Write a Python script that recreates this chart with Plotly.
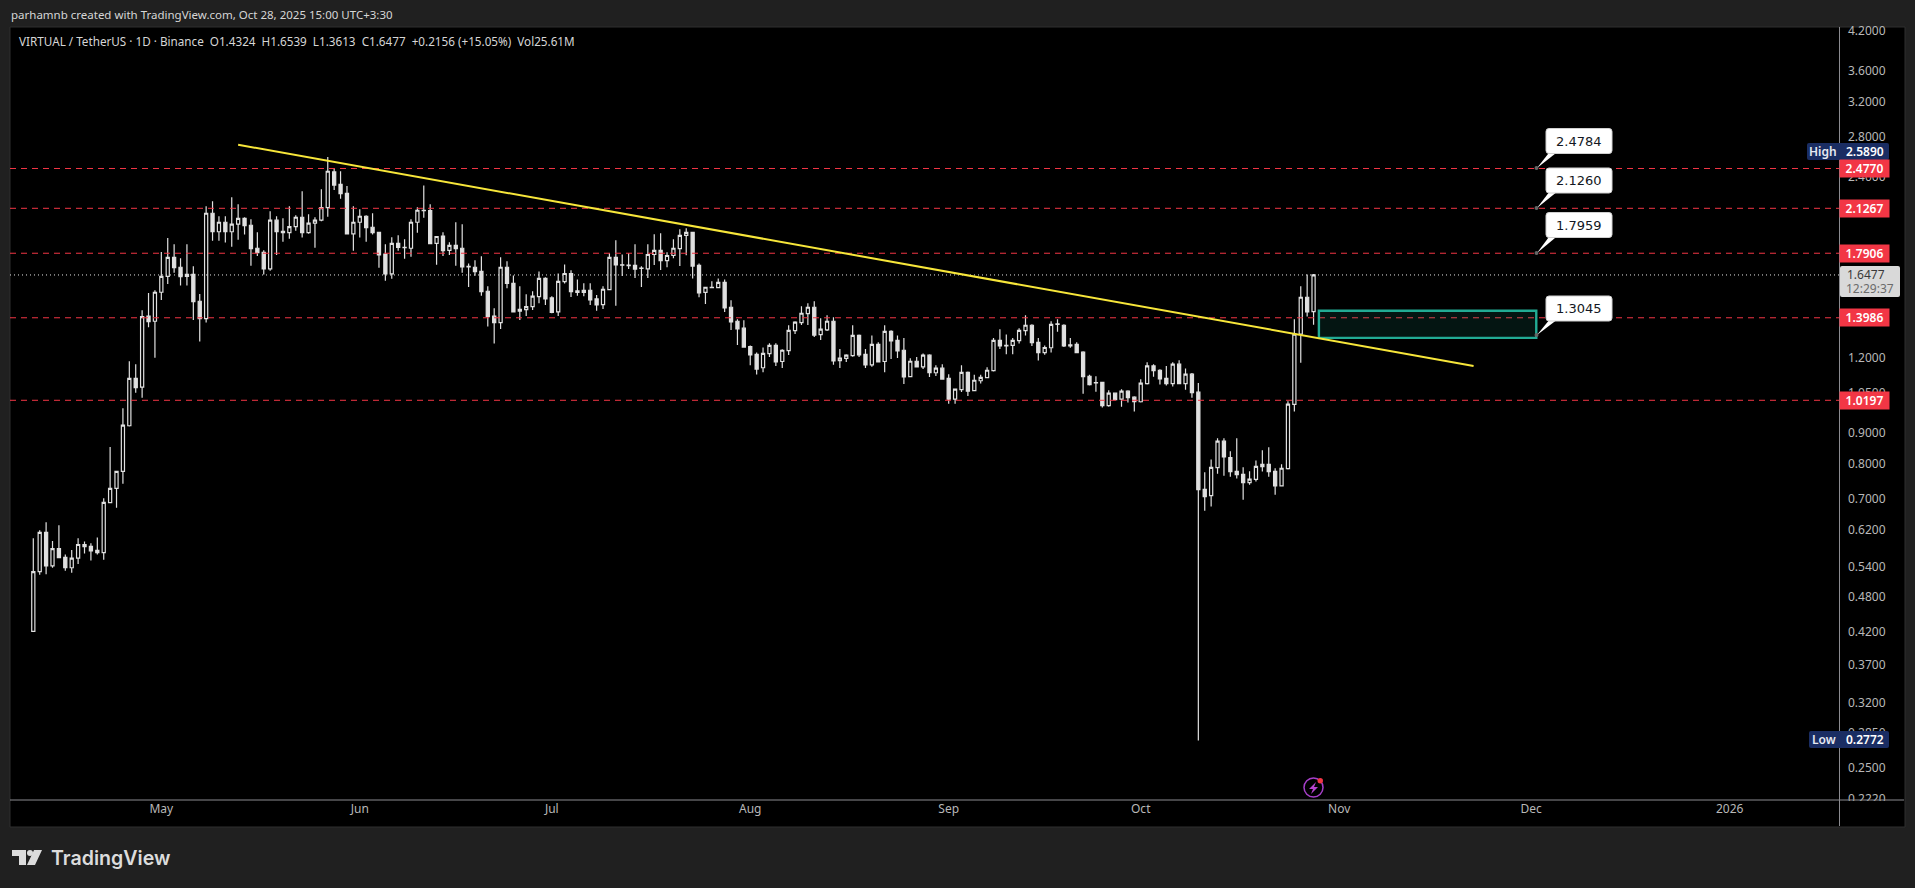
import datetime as dt
import math

import plotly.graph_objects as go

W, H = 1915, 888

start = dt.date(2025, 4, 11)
opens = [
    .421, .529, .615, .541, .578, .559, .537, .557, .587, .583, .574, .569, .689, .728, .777, .925, 1.109, 1.072, 1.407, 1.380,
    1.542, 1.639, 1.763, 1.697, 1.639, 1.651, 1.490, 1.394, 2.087, 1.944, 2.016, 1.944, 2.001, 2.047, 1.993, 1.825, 1.797, 1.687, 2.032, 1.947,
    1.937, 1.982, 2.055, 1.937, 2.009, 2.032, 2.132, 2.445, 2.331, 2.252, 1.929, 2.016, 2.063, 1.978, 1.940, 1.785, 1.655, 1.860, 1.831, 1.825,
    2.016, 2.111, 2.108, 1.860, 1.912, 1.811, 1.846, 1.825, 1.703, 1.697, 1.670, 1.548, 1.407, 1.373, 1.697, 1.596, 1.434, 1.443, 1.460, 1.517,
    1.626, 1.509, 1.431, 1.606, 1.657, 1.550, 1.541, 1.554, 1.503, 1.471, 1.558, 1.763, 1.713, 1.711, 1.709, 1.692, 1.687, 1.782, 1.811, 1.740,
    1.775, 1.822, 1.918, 1.940, 1.709, 1.541, 1.570, 1.570, 1.602, 1.456, 1.380, 1.344, 1.253, 1.216, 1.155, 1.219, 1.258, 1.183, 1.233, 1.331,
    1.373, 1.421, 1.456, 1.311, 1.335, 1.380, 1.187, 1.197, 1.210, 1.307, 1.216, 1.168, 1.263, 1.183, 1.328, 1.283, 1.235, 1.116, 1.184, 1.159,
    1.212, 1.133, 1.153, 1.109, 1.024, 1.062, 1.135, 1.058, 1.099, 1.112, 1.142, 1.283, 1.256, 1.258, 1.281, 1.331, 1.359, 1.273, 1.224, 1.247,
    1.364, 1.359, 1.256, 1.263, 1.226, 1.118, 1.091, 1.092, .999, 1.048, 1.024, 1.056, 1.032, 1.014, 1.087, 1.163, 1.144, 1.109, 1.087, 1.171,
    1.087, 1.127, 1.052, .725, .708, .788, .872, .819, .777, .768, .744, .753, .791, .798, .777, .735, .785, 1.004, 1.314, 1.513,
    1.4324,
]
highs = [
    .601, .620, .639, .595, .632, .565, .575, .601, .594, .590, .603, .701, .853, .777, .989, 1.184, 1.171, 1.439, 1.537, 1.554,
    1.799, 1.899, 1.853, 1.757, 1.853, 1.703, 1.532, 2.144, 2.185, 2.063, 2.063, 2.219, 2.160, 2.055, 2.040, 1.940, 1.811, 2.103, 2.063, 2.047,
    2.144, 2.071, 2.270, 2.079, 2.055, 2.287, 2.589, 2.479, 2.451, 2.316, 2.144, 2.119, 2.071, 2.087, 1.940, 1.853, 1.904, 1.918, 1.889, 2.040,
    2.135, 2.320, 2.160, 1.909, 1.940, 1.868, 2.016, 2.001, 1.722, 1.743, 1.770, 1.578, 1.451, 1.763, 1.736, 1.645, 1.578, 1.530, 1.548, 1.670,
    1.633, 1.519, 1.657, 1.715, 1.677, 1.620, 1.596, 1.596, 1.526, 1.578, 1.790, 1.882, 1.782, 1.790, 1.853, 1.703, 1.853, 1.926, 1.933, 1.797,
    1.889, 1.962, 1.970, 1.940, 1.722, 1.572, 1.608, 1.626, 1.620, 1.495, 1.391, 1.385, 1.258, 1.225, 1.248, 1.268, 1.268, 1.240, 1.359, 1.380,
    1.462, 1.478, 1.490, 1.396, 1.412, 1.401, 1.241, 1.216, 1.359, 1.312, 1.241, 1.307, 1.273, 1.359, 1.333, 1.307, 1.294, 1.198, 1.203, 1.220,
    1.216, 1.166, 1.171, 1.127, 1.064, 1.166, 1.139, 1.124, 1.124, 1.157, 1.294, 1.339, 1.312, 1.294, 1.344, 1.412, 1.364, 1.294, 1.258, 1.380,
    1.391, 1.364, 1.294, 1.273, 1.230, 1.124, 1.118, 1.092, 1.060, 1.048, 1.064, 1.060, 1.036, 1.105, 1.180, 1.171, 1.148, 1.163, 1.180, 1.189,
    1.152, 1.132, 1.089, .774, .813, .882, .882, .839, .882, .789, .777, .810, .842, .852, .786, .798, 1.016, 1.391, 1.578, 1.651,
    1.6539,
]
lows = [
    .421, .523, .524, .537, .558, .531, .527, .545, .567, .552, .565, .554, .689, .676, .741, .922, 1.050, 1.030, 1.349, 1.200,
    1.497, 1.592, 1.662, 1.582, 1.582, 1.387, 1.277, 1.373, 1.879, 1.879, 1.866, 1.836, 1.886, 1.923, 1.707, 1.772, 1.651, 1.674, 1.779, 1.872,
    1.893, 1.952, 1.901, 1.929, 1.829, 2.024, 2.059, 2.281, 2.207, 1.929, 1.808, 1.901, 1.872, 1.923, 1.694, 1.612, 1.624, 1.808, 1.754, 1.767,
    1.937, 2.052, 1.857, 1.713, 1.772, 1.779, 1.707, 1.662, 1.574, 1.642, 1.522, 1.353, 1.267, 1.340, 1.566, 1.430, 1.387, 1.408, 1.441, 1.478,
    1.469, 1.423, 1.408, 1.595, 1.514, 1.521, 1.519, 1.469, 1.436, 1.447, 1.556, 1.465, 1.641, 1.685, 1.629, 1.574, 1.629, 1.711, 1.679, 1.697,
    1.757, 1.705, 1.777, 1.626, 1.513, 1.475, 1.566, 1.566, 1.430, 1.335, 1.260, 1.250, 1.166, 1.125, 1.135, 1.204, 1.163, 1.154, 1.213, 1.314,
    1.360, 1.360, 1.299, 1.285, 1.330, 1.168, 1.154, 1.181, 1.205, 1.204, 1.154, 1.159, 1.181, 1.135, 1.194, 1.199, 1.085, 1.116, 1.157, 1.149,
    1.115, 1.119, 1.106, 1.006, 1.006, 1.053, 1.037, 1.056, 1.087, 1.109, 1.138, 1.241, 1.216, 1.216, 1.267, 1.307, 1.255, 1.187, 1.214, 1.224,
    1.326, 1.250, 1.247, 1.224, 1.046, 1.079, 1.054, .992, .995, 1.020, .995, 1.011, .977, 1.011, 1.083, 1.116, 1.083, 1.079, 1.075, 1.087,
    1.062, 1.030, .2772, .668, .679, .770, .764, .761, .756, .697, .738, .747, .776, .761, .710, .735, .782, .977, 1.177, 1.405,
    1.3613,
]
closes = [
    .529, .615, .541, .578, .558, .537, .557, .587, .582, .573, .569, .690, .728, .777, .927, 1.109, 1.070, 1.405, 1.378, 1.542,
    1.639, 1.763, 1.694, 1.637, 1.651, 1.487, 1.394, 2.087, 1.944, 2.016, 1.944, 2.001, 2.047, 1.990, 1.822, 1.794, 1.687, 2.032, 1.944, 1.937,
    1.982, 2.055, 1.937, 2.009, 2.032, 2.132, 2.451, 2.325, 2.249, 1.929, 2.016, 2.063, 1.975, 1.937, 1.779, 1.655, 1.860, 1.831, 1.829, 2.016,
    2.111, 2.108, 1.857, 1.909, 1.808, 1.846, 1.822, 1.700, 1.700, 1.668, 1.546, 1.405, 1.373, 1.697, 1.595, 1.430, 1.445, 1.460, 1.519, 1.626,
    1.503, 1.428, 1.608, 1.657, 1.545, 1.541, 1.554, 1.497, 1.469, 1.560, 1.763, 1.713, 1.711, 1.707, 1.685, 1.690, 1.782, 1.811, 1.740, 1.775,
    1.825, 1.918, 1.940, 1.705, 1.539, 1.572, 1.572, 1.602, 1.452, 1.377, 1.340, 1.250, 1.213, 1.149, 1.220, 1.258, 1.181, 1.235, 1.333, 1.375,
    1.423, 1.456, 1.309, 1.339, 1.380, 1.186, 1.198, 1.212, 1.307, 1.213, 1.168, 1.263, 1.181, 1.328, 1.280, 1.232, 1.115, 1.184, 1.159, 1.212,
    1.133, 1.153, 1.106, 1.024, 1.064, 1.135, 1.056, 1.101, 1.113, 1.144, 1.283, 1.256, 1.258, 1.283, 1.333, 1.359, 1.272, 1.224, 1.248, 1.364,
    1.366, 1.256, 1.261, 1.224, 1.116, 1.083, 1.090, .999, 1.048, 1.022, 1.056, 1.030, 1.014, 1.089, 1.163, 1.142, 1.107, 1.087, 1.171, 1.087,
    1.127, 1.050, .724, .705, .789, .872, .821, .776, .767, .744, .754, .792, .798, .776, .735, .786, 1.005, 1.314, 1.513, 1.431,
    1.6477,
]
dates = [start + dt.timedelta(days=i) for i in range(len(opens))]

# red levels, callouts, trendline, zone
levels = [2.4770, 2.1267, 1.7906, 1.3986, 1.0197]
level_labels = ["2.4770", "2.1267", "1.7906", "1.3986", "1.0197"]
callout_labels = ["2.4784", "2.1260", "1.7959", "1.3045"]
last_price = 1.6477
trend_dates = ["2025-05-13", "2025-11-22"]
trend_prices = [2.713, 1.163]
zone_dates = ["2025-10-28 20:00", "2025-12-01 19:00"]
zone_prices = [1.295, 1.437]

y_ticks = [4.2, 3.6, 3.2, 2.8, 2.4, 1.2, 1.05, .9, .8, .7, .62, .54, .48, .42, .37, .32, .285, .25, .222]
x_ticks = ["2025-05-01", "2025-06-01", "2025-07-01", "2025-08-01", "2025-09-01", "2025-10-01", "2025-11-01", "2025-12-01", "2026-01-01"]
x_labels = ["May", "Jun", "Jul", "Aug", "Sep", "Oct", "Nov", "Dec", "2026"]

x_range = ["2025-04-07 08:38", "2026-01-18 02:00"]
y_range = [-0.6562, 0.6292]

BG = "#202020"
RED = "#f23645"
NAVY = "#1a2d63"
AXIS = "#8b8b90"
TICK = "#b8b8b8"
FONT = "Noto Sans"


def px(x):
    return x / W


def py(y):
    return 1 - y / H


def box(x0, y0, x1, y1, fill, r=0, line=None, layer="above"):
    # rounded rect in picture pixels
    a, b, c, d = px(x0), py(y0), px(x1), py(y1)
    rx, ry = r / W, r / H
    path = (
        f"M {a + rx},{b} L {c - rx},{b} Q {c},{b} {c},{b - ry} L {c},{d + ry} Q {c},{d} {c - rx},{d} "
        f"L {a + rx},{d} Q {a},{d} {a},{d + ry} L {a},{b - ry} Q {a},{b} {a + rx},{b} Z"
    )
    return dict(type="path", path=path, xref="paper", yref="paper", fillcolor=fill, layer=layer,
                line=dict(color=line or fill, width=1 if line else 0))


def poly(points, fill, layer="above"):
    path = "M " + " L ".join(f"{px(x)},{py(y)}" for x, y in points) + " Z"
    return dict(type="path", path=path, xref="paper", yref="paper", fillcolor=fill, layer=layer, line=dict(width=0))


def hline(x0, x1, y, color, width=1):
    return dict(type="line", xref="paper", yref="paper", x0=px(x0), x1=px(x1), y0=py(y), y1=py(y),
                layer="above", line=dict(color=color, width=width))


def vline(x, y0, y1, color, width=1):
    return dict(type="line", xref="paper", yref="paper", x0=px(x), x1=px(x), y0=py(y0), y1=py(y1),
                layer="above", line=dict(color=color, width=width))


def text(x, y, s, size=12, color=TICK, anchor="center", font=FONT, weight=None):
    return dict(xref="paper", yref="paper", x=px(x), y=py(y), text=s, showarrow=False, xanchor=anchor, yanchor="middle",
                font=dict(family=font, size=size, color=color, weight=weight))


fig = go.Figure()

for lv in levels:
    fig.add_trace(go.Scatter(x=x_range, y=[lv, lv], mode="lines", line=dict(color=RED, width=1, dash="6px,5px"), hoverinfo="skip"))

fig.add_trace(go.Scatter(x=x_range, y=[last_price, last_price], mode="lines", line=dict(color="#e6e6e6", width=1, dash="1px,3px"), hoverinfo="skip"))

fig.add_trace(go.Scatter(
    x=[zone_dates[0], zone_dates[1], zone_dates[1], zone_dates[0], zone_dates[0]],
    y=[zone_prices[0], zone_prices[0], zone_prices[1], zone_prices[1], zone_prices[0]],
    mode="lines", fill="toself", fillcolor="rgba(34,171,148,0.12)", line=dict(color="#22ab94", width=2.4), hoverinfo="skip",
))

fig.add_trace(go.Candlestick(
    x=dates, open=opens, high=highs, low=lows, close=closes, whiskerwidth=0,
    increasing=dict(line=dict(color="#e0e0e0", width=1.2), fillcolor="#000000"),
    decreasing=dict(line=dict(color="#e0e0e0", width=1.2), fillcolor="#e0e0e0"),
))

fig.add_trace(go.Scatter(x=trend_dates, y=trend_prices, mode="lines", line=dict(color="#f7e63a", width=2), hoverinfo="skip"))

shapes = [
    box(10, 27, 1905, 827, "#000000", line="#2e2e2e", layer="below"),
    # clip the tick labels on the chart edges
    box(1841, 10, 1904, 26, BG),
    box(1841, 801, 1903, 815, "#000000"),
    hline(10, 1904, 800, AXIS),
    vline(1839.5, 27, 826, AXIS),
]
annotations = []

# high / low tags
shapes.append(box(1807, 143, 1889, 160, NAVY, r=2))
annotations.append(text(1823, 151.5, "High", color="#e6e9f2", weight=600))
annotations.append(text(1865, 151.5, "2.5890", color="#ffffff", weight=600))
shapes.append(box(1809, 731, 1889, 748, NAVY, r=2))
annotations.append(text(1824, 739.5, "Low", color="#e6e9f2", weight=600))
annotations.append(text(1865, 739.5, "0.2772", color="#ffffff", weight=600))

# red level tags
for lv, lab in zip(levels, level_labels):
    annotations.append(dict(xref="paper", yref="y", x=px(1864), y=math.log10(lv), text=lab, showarrow=False,
                            xanchor="center", yanchor="middle", bgcolor=RED, borderpad=2, width=45, height=13,
                            font=dict(family=FONT, size=12, color="#ffffff", weight=600)))

# last price tag
shapes.append(box(1840, 266, 1900, 297, "#d9d9d9", r=2))
annotations.append(text(1866, 274.5, "1.6477", color="#3a3a3a"))
annotations.append(text(1870, 288, "12:29:37", color="#6b6b6b"))

# callouts
callout_tops = [128.5, 168, 212.5, 296]
callout_anchor_y = [168, 208, 253, 335]
for lab, top, ay in zip(callout_labels, callout_tops, callout_anchor_y):
    shapes.append(poly([(1550, top + 23), (1558, top + 23), (1537, ay)], "#ffffff"))
    shapes.append(box(1546, top, 1612, top + 25, "#ffffff", r=3, line="#d0d0d0"))
    shapes.append(dict(type="circle", xref="paper", yref="paper", x0=px(1534.5), x1=px(1538.5), y0=py(ay - 2), y1=py(ay + 2),
                       fillcolor="#666666", line=dict(width=0), layer="above"))
    annotations.append(text(1579, top + 12.5, lab, size=13, color="#131722", font="DejaVu Sans"))

# header and legend
annotations.append(text(9, 15, "parhamnb created with TradingView.com, Oct 28, 2025 15:00 UTC+3:30", size=11.5, color="#d6d6d6", anchor="left"))
annotations.append(text(17, 41, "VIRTUAL / TetherUS · 1D · Binance&nbsp;&nbsp;O1.4324&nbsp;&nbsp;H1.6539&nbsp;&nbsp;L1.3613&nbsp;&nbsp;C1.6477&nbsp;&nbsp;+0.2156 (+15.05%)&nbsp;&nbsp;Vol25.61M",
                        size=11.7, color="#d6d6d6", anchor="left"))

# logo
shapes.append(poly([(12, 850), (26, 850), (26, 865), (19, 865), (19, 856), (12, 856)], "#dcdcdc"))
shapes.append(dict(type="circle", xref="paper", yref="paper", x0=px(27), x1=px(33), y0=py(850), y1=py(856), fillcolor="#dcdcdc", line=dict(width=0), layer="above"))
shapes.append(poly([(34, 850), (42, 850), (35, 865), (27, 865)], "#dcdcdc"))
annotations.append(text(49, 858, "TradingView", size=19.6, color="#dcdcdc", anchor="left", font="Inter", weight=600))

# bolt icon
shapes.append(dict(type="circle", xref="paper", yref="paper", x0=px(1304), x1=px(1323), y0=py(778), y1=py(797), line=dict(color="#a63fc9", width=1.5), layer="above"))
shapes.append(poly([(1316, 782), (1309, 789), (1313, 789), (1311, 794), (1318, 787), (1314, 787)], "#b844d0"))
shapes.append(dict(type="circle", xref="paper", yref="paper", x0=px(1317.5), x1=px(1323), y0=py(778), y1=py(783.5), fillcolor=RED, line=dict(width=0), layer="above"))

fig.update_layout(
    width=W,
    height=H,
    margin=dict(l=0, r=0, t=0, b=0),
    paper_bgcolor=BG,
    plot_bgcolor="#000000",
    showlegend=False,
    hovermode=False,
    shapes=shapes,
    annotations=annotations,
    xaxis=dict(
        domain=[px(10), px(1839)], range=x_range, type="date", rangeslider=dict(visible=False), automargin=False,
        tickmode="array", tickvals=x_ticks, ticktext=x_labels, showgrid=False, zeroline=False, showline=False,
        ticks="", tickfont=dict(family=FONT, size=12, color=TICK),
    ),
    yaxis=dict(
        domain=[py(800), py(27)], range=y_range, type="log", side="right", anchor="x", automargin=False,
        tickmode="array", tickvals=y_ticks, ticktext=[f"{t:.4f}" for t in y_ticks], showgrid=False, zeroline=False, showline=False,
        ticks="", ticklabelstandoff=8, tickfont=dict(family=FONT, size=12, color=TICK),
    ),
)

fig.write_html("out.html", config=dict(displayModeBar=False), post_script="document.body.style.margin='0';document.body.style.overflow='hidden';")
